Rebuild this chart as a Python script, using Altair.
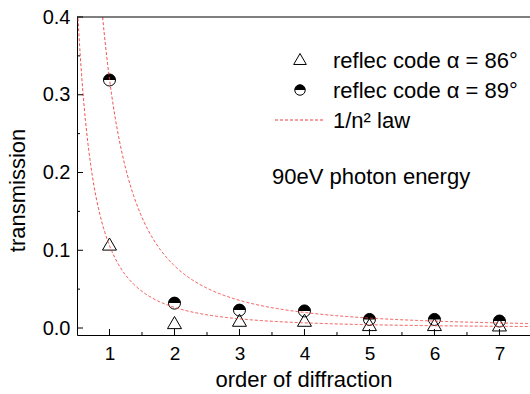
import altair as alt
import pandas as pd

# data
orders = [1, 2, 3, 4, 5, 6, 7]
t_86 = [0.108, 0.007, 0.010, 0.010, 0.0045, 0.0045, 0.004]
t_89 = [0.319, 0.032, 0.023, 0.022, 0.011, 0.011, 0.009]
law_coeffs = [0.32, 0.106]   # a / n^2 curves

x_major = [1, 2, 3, 4, 5, 6, 7]
x_minor = [1.5, 2.5, 3.5, 4.5, 5.5, 6.5]
y_major = [0.0, 0.1, 0.2, 0.3, 0.4]
y_minor = [0.05, 0.15, 0.25, 0.35]

W, H = 453, 318
FONT = "Liberation Sans"
XDOM = [0.5, 7.47]
YDOM = [-0.009, 0.4]

xs = alt.Scale(domain=XDOM, nice=False, zero=False)
ys = alt.Scale(domain=YDOM, nice=False, zero=False)

pts = pd.DataFrame({"n": orders, "a86": t_86, "a89": t_89})

x_axis = alt.Axis(values=x_major, format="d", ticks=False, grid=False,
                  domainColor="black", domainWidth=1, labelFont=FONT,
                  labelFontSize=19, labelColor="black", labelPadding=9,
                  title="order of diffraction", titleFont=FONT, titleFontSize=22,
                  titleFontWeight="normal", titleColor="black", titlePadding=6)
y_axis = alt.Axis(values=y_major, format=".1f", ticks=False, grid=False,
                  domainColor="black", domainWidth=1, labelFont=FONT,
                  labelFontSize=20, labelColor="black", labelPadding=7,
                  title="transmission", titleFont=FONT, titleFontSize=22,
                  titleFontWeight="normal", titleColor="black",
                  titleX=-60, titleY=173, titleBaseline="middle")

base = alt.Chart(pts)

tri = base.mark_point(shape="triangle-up", size=196, filled=False,
                      color="black", strokeWidth=1, opacity=1).encode(
    x=alt.X("n:Q", scale=xs, axis=x_axis),
    y=alt.Y("a86:Q", scale=ys, axis=y_axis),
)
circ = base.mark_point(shape="circle", size=144, filled=False,
                       color="black", strokeWidth=1, opacity=1).encode(
    x=alt.X("n:Q", scale=xs), y=alt.Y("a89:Q", scale=ys))
half = base.mark_point(shape="M-1,0 A1,1 0 0,1 1,0 Z", size=144, filled=True,
                       color="black", opacity=1, strokeWidth=0).encode(
    x=alt.X("n:Q", scale=xs), y=alt.Y("a89:Q", scale=ys))

curves = []
for i, a in enumerate(law_coeffs):
    c = alt.Chart(alt.sequence(0.5, 7.5, 0.01, as_="n")).transform_calculate(
        v=f"{a} / (datum.n * datum.n)"
    ).mark_line(color="#f03c3c", strokeWidth=1, strokeDash=[3, 2],
                clip=True, opacity=0.9).encode(
        x=alt.X("n:Q", scale=xs), y=alt.Y("v:Q", scale=ys))
    curves.append(c)

# inward ticks
xmaj = alt.Chart(pd.DataFrame({"t": x_major})).mark_rule(color="black", strokeWidth=1).encode(
    x=alt.X("t:Q", scale=xs), y=alt.value(H), y2=alt.value(H - 6))
xmin = alt.Chart(pd.DataFrame({"t": x_minor})).mark_rule(color="black", strokeWidth=1).encode(
    x=alt.X("t:Q", scale=xs), y=alt.value(H), y2=alt.value(H - 3))
ymaj = alt.Chart(pd.DataFrame({"t": y_major})).mark_rule(color="black", strokeWidth=1).encode(
    y=alt.Y("t:Q", scale=ys), x=alt.value(0), x2=alt.value(6))
ymin = alt.Chart(pd.DataFrame({"t": y_minor})).mark_rule(color="black", strokeWidth=1).encode(
    y=alt.Y("t:Q", scale=ys), x=alt.value(0), x2=alt.value(3))
top = alt.Chart(pd.DataFrame({"t": [0]})).mark_rule(color="black", strokeWidth=1).encode(
    x=alt.value(0), x2=alt.value(W), y=alt.value(0))

# legend
one = pd.DataFrame({"k": [0]})
leg_tri = alt.Chart(one).mark_point(shape="triangle-up", size=160, filled=False,
                                     color="black", strokeWidth=1, opacity=1).encode(
    x=alt.value(223), y=alt.value(42))
leg_circ = alt.Chart(one).mark_point(shape="circle", size=110, filled=False,
                                      color="black", strokeWidth=1, opacity=1).encode(
    x=alt.value(223), y=alt.value(73))
leg_half = alt.Chart(one).mark_point(shape="M-1,0 A1,1 0 0,1 1,0 Z", size=110, filled=True,
                                      color="black", strokeWidth=0, opacity=1).encode(
    x=alt.value(223), y=alt.value(73))
leg_line = alt.Chart(one).mark_rule(color="#f03c3c", strokeWidth=1, strokeDash=[3, 2]).encode(
    x=alt.value(198), x2=alt.value(248), y=alt.value(103))

labels = ["reflec code α = 86°", "reflec code α = 89°", "1/n² law"]
label_y = [44, 74, 104]
leg_text = [
    alt.Chart(one).mark_text(text=t, align="left", baseline="middle", font=FONT,
                             fontSize=22, color="black").encode(
        x=alt.value(256), y=alt.value(yy))
    for t, yy in zip(labels, label_y)
]
note = alt.Chart(one).mark_text(text="90eV photon energy", align="left", baseline="middle",
                                font=FONT, fontSize=22, color="black").encode(
    x=alt.value(195), y=alt.value(160))

chart = alt.layer(
    tri, circ, half, *curves, xmaj, xmin, ymaj, ymin, top,
    leg_tri, leg_circ, leg_half, leg_line, *leg_text, note
).properties(
    width=W, height=H,
    autosize=alt.AutoSizeParams(type="none"),
    padding={"left": 77, "top": 17, "right": 0, "bottom": 59},
    background="white",
).configure_view(stroke=None)

chart.save("out.html", embed_options={"renderer": "svg", "actions": False})
